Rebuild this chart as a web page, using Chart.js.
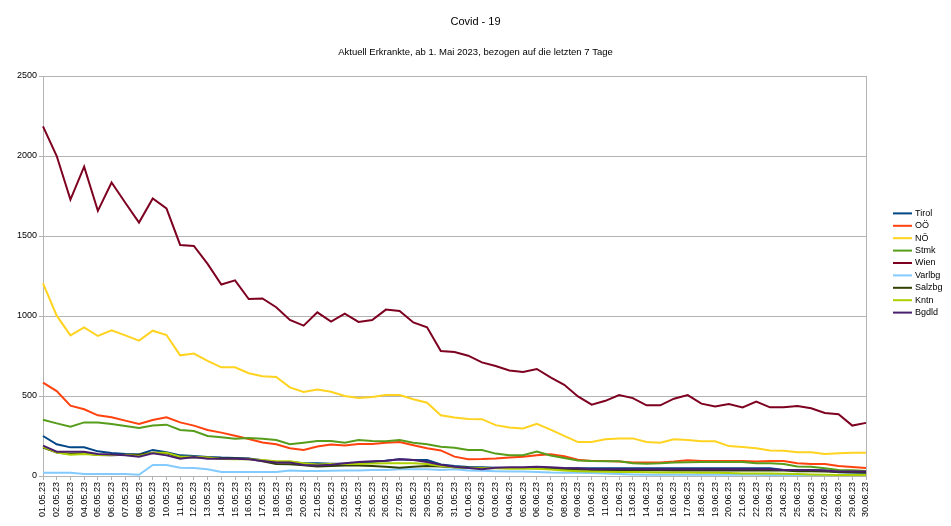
<!DOCTYPE html>
<html><head><meta charset="utf-8">
<script src="https://cdn.jsdelivr.net/npm/chart.js@4.4.0/dist/chart.umd.min.js"></script>
<style>html,body{margin:0;padding:0;background:#fff;}canvas{display:block;}</style>
</head><body>
<canvas id="c" width="951" height="526" style="width:951px;height:526px"></canvas>
<script>
const dates = ["01.05.23","02.05.23","03.05.23","04.05.23","05.05.23","06.05.23","07.05.23","08.05.23","09.05.23","10.05.23",
"11.05.23","12.05.23","13.05.23","14.05.23","15.05.23","16.05.23","17.05.23","18.05.23","19.05.23","20.05.23",
"21.05.23","22.05.23","23.05.23","24.05.23","25.05.23","26.05.23","27.05.23","28.05.23","29.05.23","30.05.23","31.05.23",
"01.06.23","02.06.23","03.06.23","04.06.23","05.06.23","06.06.23","07.06.23","08.06.23","09.06.23","10.06.23",
"11.06.23","12.06.23","13.06.23","14.06.23","15.06.23","16.06.23","17.06.23","18.06.23","19.06.23","20.06.23",
"21.06.23","22.06.23","23.06.23","24.06.23","25.06.23","26.06.23","27.06.23","28.06.23","29.06.23","30.06.23"];

const yTicks = [0, 500, 1000, 1500, 2000, 2500];

const tirol = [250,198,179,179,154,144,138,135,163,148, 129,125,119,115,113,110,98,88,88,79, 80,76,76,82,88,96,104,100,100,72, 62,56,54,52,50,50,52,50,48,48, 48,48,48,48,48,48,48,48,48,48, 48,48,48,48,38,38,38,34,23,22, 21];
const ooe = [583,531,440,417,379,367,346,325,350,367, 335,315,288,271,252,231,210,198,173,163, 184,197,190,200,200,208,212,192,173,160, 121,105,106,110,116,121,130,136,124,102, 94,93,91,84,85,85,90,98,94,94, 94,94,90,94,94,79,75,75,63,56, 50];
const noe = [1204,1002,879,929,875,910,879,846,908,881, 754,765,719,679,679,642,623,619,554,525, 540,527,500,487,494,506,506,480,458,380, 366,356,355,318,303,297,326,290,251,212, 212,229,235,235,213,208,229,225,217,217, 187,181,173,160,158,148,148,137,142,146, 146];
const stmk = [352,329,308,335,335,325,313,300,315,321, 288,281,250,242,233,238,233,225,198,208, 218,218,208,225,219,217,225,208,198,183, 177,163,162,140,130,130,153,128,112,97, 93,92,92,79,77,79,85,86,87,87, 87,88,79,79,75,60,58,48,38,36, 31];
const wien = [2185,2000,1728,1933,1657,1834,1708,1584,1735,1672, 1444,1438,1326,1197,1223,1106,1110,1055,975,940, 1023,965,1015,963,975,1040,1032,960,929,781, 775,752,710,687,660,650,669,617,570,497, 446,470,506,487,442,442,483,506,452,435, 450,429,465,429,429,437,423,394,386,315, 332];
const varlbg = [21,21,21,13,13,13,13,8,69,69, 52,50,42,25,25,25,25,25,35,31, 31,33,35,35,38,38,42,42,42,38, 42,35,33,30,28,28,25,22,21,20, 18,15,12,10,8,8,8,8,8,8, 8,8,8,6,6,6,6,6,6,6, 6];
const salzbg = [177,146,138,142,131,129,133,133,146,142, 117,115,115,110,110,108,92,75,73,67, 60,62,65,65,62,58,52,58,62,60, 55,52,50,50,50,50,48,45,42,40, 38,38,38,36,36,36,35,35,35,35, 35,35,35,35,35,30,30,28,25,24, 22];
const kntn = [183,146,133,138,131,131,131,125,146,146, 121,121,115,106,104,104,100,92,92,79, 72,75,75,75,78,79,79,79,75,62, 55,50,48,48,46,45,45,40,35,30, 28,26,25,25,24,22,22,22,20,20, 18,16,15,15,14,12,10,8,6,6, 6];
const bgdld = [190,152,152,152,138,135,129,121,142,129, 108,119,108,108,108,104,94,85,85,69, 65,70,80,88,92,96,104,100,88,70, 58,50,42,52,55,55,58,55,50,48, 42,42,42,42,42,42,42,42,42,42, 42,42,42,42,38,38,38,34,28,28, 28];

const seriesNames = ["Tirol","OÖ","NÖ","Stmk","Wien","Varlbg","Salzbg","Kntn","Bgdld"];
const seriesData = [tirol, ooe, noe, stmk, wien, varlbg, salzbg, kntn, bgdld];
const seriesColors = ["#004586","#ff420e","#ffd320","#579d1c","#7e0021","#83caff","#314004","#aecf00","#4b1f6f"];

const titleText = "Covid - 19";
const subtitleText = "Aktuell Erkrankte, ab 1. Mai 2023, bezogen auf die letzten 7 Tage";
const FONT = '"Liberation Sans", Arial, sans-serif';
const GRID = '#b3b3b3';

const decorPlugin = {
  id: 'decor',
  afterDraw(chart) {
    const ctx = chart.ctx, ca = chart.chartArea;
    ctx.save();
    ctx.strokeStyle = GRID; ctx.lineWidth = 1;
    const rx = Math.round(ca.right) + 0.5;
    ctx.beginPath(); ctx.moveTo(rx, ca.top); ctx.lineTo(rx, ca.bottom); ctx.stroke();
    ctx.fillStyle = '#000'; ctx.textAlign = 'center'; ctx.textBaseline = 'middle';
    ctx.font = '11px ' + FONT;
    ctx.fillText(titleText, chart.width / 2, 22);
    ctx.font = '9.5px ' + FONT;
    ctx.fillText(subtitleText, chart.width / 2, 52);
    const n = chart.data.datasets.length, sp = 12.4;
    const cy = chart.height / 2;
    const x0 = ca.right + 27;
    ctx.font = '9px ' + FONT; ctx.textAlign = 'left';
    chart.data.datasets.forEach((ds, i) => {
      const y = cy + (i - (n - 1) / 2) * sp;
      ctx.strokeStyle = ds.borderColor; ctx.lineWidth = 2;
      ctx.beginPath(); ctx.moveTo(x0, y); ctx.lineTo(x0 + 19, y); ctx.stroke();
      ctx.fillStyle = '#000';
      ctx.fillText(ds.label, x0 + 22, y);
    });
    ctx.restore();
  }
};

new Chart(document.getElementById('c'), {
  type: 'line',
  data: {
    labels: dates,
    datasets: seriesNames.map((name, i) => ({
      label: name,
      data: seriesData[i],
      borderColor: seriesColors[i],
      backgroundColor: seriesColors[i],
      borderWidth: 2,
      pointRadius: 0,
      tension: 0,
      fill: false,
      order: seriesNames.length - i
    }))
  },
  options: {
    responsive: false,
    animation: false,
    devicePixelRatio: 1,
    layout: { padding: { left: 16, right: 85, top: 76, bottom: 0 } },
    plugins: { legend: { display: false }, title: { display: false }, tooltip: { enabled: false } },
    scales: {
      x: {
        type: 'category',
        offset: false,
        afterFit(s) { s.height = 50; },
        grid: { drawOnChartArea: false, drawTicks: true, tickLength: 4, color: GRID },
        border: { display: true, color: GRID },
        ticks: { autoSkip: false, maxRotation: 90, minRotation: 90, padding: 2, color: '#000', font: { family: FONT, size: 9 } }
      },
      y: {
        min: 0, max: 2500,
        afterFit(s) { s.width = 27; },
        afterBuildTicks(s) { s.ticks = yTicks.map(v => ({ value: v })); },
        grid: { color: GRID, tickLength: 4, drawTicks: true },
        border: { display: true, color: GRID },
        ticks: { padding: 2, color: '#000', font: { family: FONT, size: 9 }, callback: v => String(v) }
      }
    }
  },
  plugins: [decorPlugin]
});
</script>
</body></html>
